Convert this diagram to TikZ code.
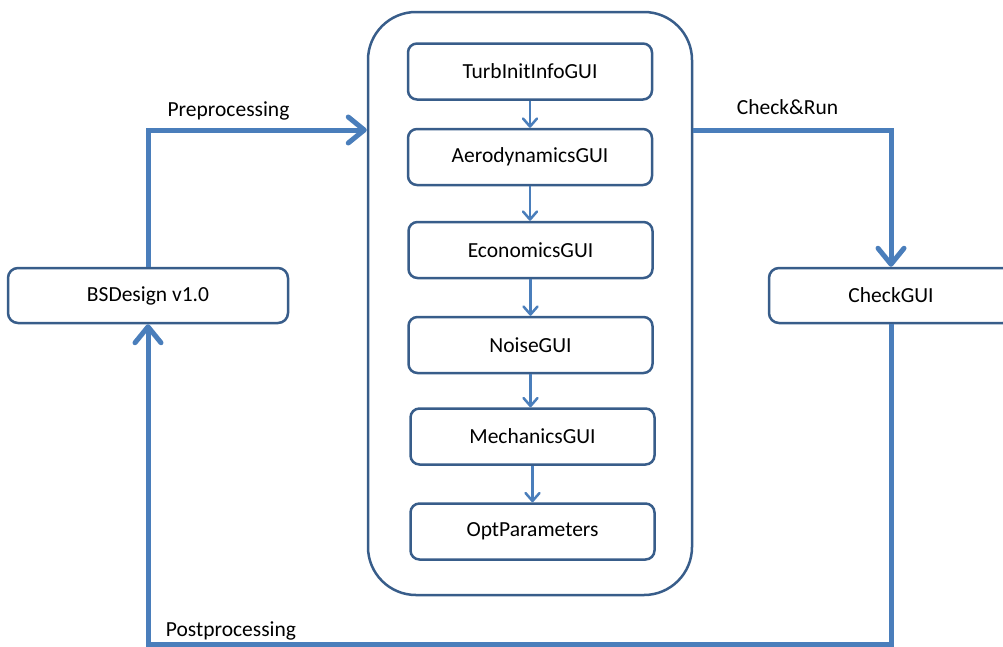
\documentclass[tikz,border=0pt]{standalone}
\usepackage{fontspec}
\setmainfont{Carlito}
\usetikzlibrary{arrows.meta}
\definecolor{boxc}{RGB}{56,93,138}
\definecolor{linec}{RGB}{74,126,187}
\tikzset{
  lbl/.style={font=\fontsize{21.5}{24}\selectfont, inner sep=0pt},
  guibox/.style={draw=boxc, line width=2.5pt, rounded corners=9pt, fill=white,
    minimum width=244pt, minimum height=56pt, inner sep=0pt,
    font=\fontsize{21.5}{24}\selectfont},
  container/.style={draw=boxc, line width=2.5pt, rounded corners=48pt,
    minimum width=324pt, minimum height=583pt, inner sep=0pt},
  flow/.style={draw=linec, line width=5pt, line join=miter,
    -{Straight Barb[length=16pt,width=26pt,round]}},
  step arrow/.style={draw=linec, line width=2.5pt,
    -{Straight Barb[length=8pt,width=14pt,round]}}
}
\begin{document}
\begin{tikzpicture}[x=1pt, y=-1pt]
  \path[use as bounding box, clip] (0,0) rectangle (1003,646);

  % outer frame holding the GUI chain
  \node[container] (cont) at (530,303.5) {};

  % GUI chain
  \node[guibox] (turb)  at (530,71.5)  {TurbInitInfoGUI};
  \node[guibox] (aero)  at (530,157)   {AerodynamicsGUI};
  \node[guibox] (econ)  at (530.5,250) {EconomicsGUI};
  \node[guibox] (noise) at (530.5,345) {NoiseGUI};
  \node[guibox] (mech)  at (532.5,436.5) {MechanicsGUI};
  \node[guibox] (opt)   at (532.5,531.5) {OptParameters};

  % side boxes
  \node[guibox, minimum width=280pt, minimum height=55pt, rounded corners=10pt]
    (bs) at (148,295.5) {BSDesign v1.0};
  \node[guibox, minimum width=244pt, minimum height=55pt, rounded corners=10pt]
    (chk) at (891,295.5) {CheckGUI};

  % chain arrows, kept vertical
  \draw[step arrow] (turb.south)  -- (turb.south |- aero.north);
  \draw[step arrow] (aero.south)  -- (aero.south |- econ.north);
  \draw[step arrow] (econ.south)  -- (econ.south |- noise.north);
  \draw[step arrow] (noise.south) -- (noise.south |- mech.north);
  \draw[step arrow] (mech.south)  -- (mech.south |- opt.north);

  % main loop
  \coordinate (topY) at (0,130);
  \coordinate (botY) at (0,644);
  \draw[flow] (bs.north) |- (cont.west |- topY);
  \draw[flow] (cont.east |- topY) -| (chk.north);
  \draw[flow] (chk.south) |- (bs.south |- botY) -- (bs.south);

  % loop labels
  \node[lbl, anchor=base] (lpre)  at (228.5,116) {Preprocessing};
  \node[lbl, anchor=base] (lrun)  at (787.5,114) {Check\&Run};
  \node[lbl, anchor=base] (lpost) at (231,636)   {Postprocessing};
\end{tikzpicture}
\end{document}
